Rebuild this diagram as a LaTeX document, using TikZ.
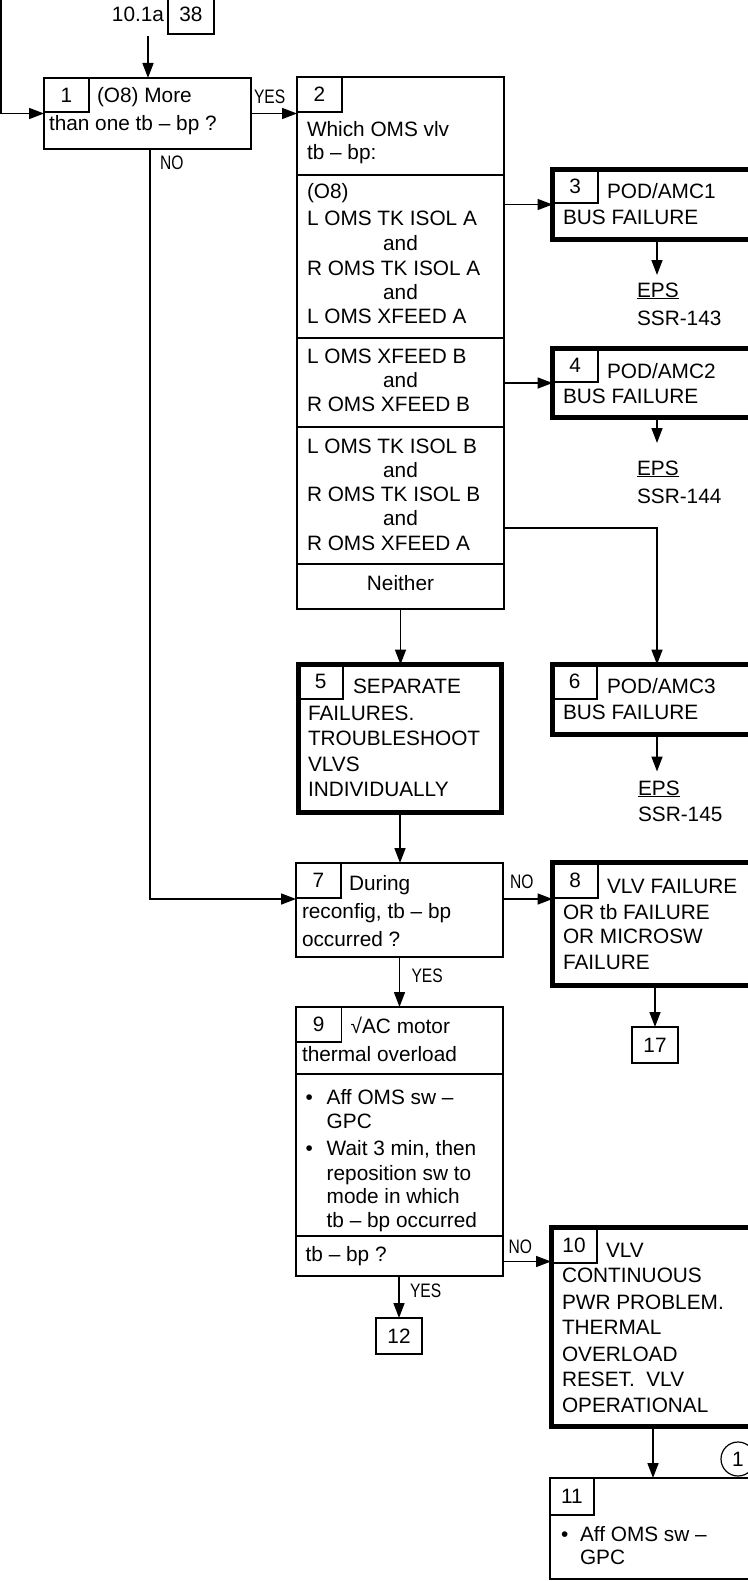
\documentclass[tikz,border=0pt]{standalone}
\usepackage{fontspec}
\setmainfont{Liberation Sans}
\newfontfamily\narrowfont[FakeStretch=0.8]{Liberation Sans}
\usetikzlibrary{arrows.meta,calc}
\newcommand\mainfs{\fontsize{20.8}{25}\selectfont}
\newcommand\lblfs{\narrowfont\fontsize{19.5}{23}\selectfont}
\newcommand\txln[4]{\node[txt] (#1) at (#2,#3) {#4};}
\tikzset{
 box/.style={draw, line width=2pt, rectangle, inner sep=0pt, outer sep=0pt, anchor=north west, font=\mainfs},
 thickbox/.style={box, line width=5pt},
 numbox/.style={draw, line width=1.2pt, rectangle, inner sep=0pt, outer sep=0pt, anchor=north west, font=\mainfs},
 txt/.style={inner sep=0pt, outer sep=0pt, anchor=base west, font=\mainfs},
 lbl/.style={inner sep=0pt, outer sep=0pt, anchor=base west, font=\lblfs},
 arr/.style={line width=1.6pt, -{Triangle[length=15pt,width=11pt]}},
 divider/.style={line width=2pt},
}
\begin{document}
\begin{tikzpicture}[x=1pt,y=-1pt]
\useasboundingbox (0,0) rectangle (747,1581);

% ---------- boxes ----------
\node[box, minimum width=46pt, minimum height=39pt] (b38) at (168,-5) {38};
\node[txt, anchor=base east] (ref10) at (164,21.7) {10.1a};

\node[box, minimum width=207pt, minimum height=71pt] (b1) at (44,78) {};
\node[numbox, minimum width=45pt, minimum height=34pt] (s1) at (b1.north west) {1};

\node[box, minimum width=207pt, minimum height=532pt] (b2) at (297,77) {};
\node[numbox, minimum width=45pt, minimum height=35pt] (s2) at (b2.north west) {2};

\node[thickbox, minimum width=209pt, minimum height=70pt] (b3) at (552.5,169.5) {};
\node[numbox, minimum width=45.5pt, minimum height=33.5pt] (s3) at (b3.north west) {3};

\node[thickbox, minimum width=209pt, minimum height=69pt] (b4) at (552.5,348.5) {};
\node[numbox, minimum width=45.5pt, minimum height=33.5pt] (s4) at (b4.north west) {4};

\node[thickbox, minimum width=203pt, minimum height=148pt] (b5) at (298.5,664.5) {};
\node[numbox, minimum width=44.5pt, minimum height=34.5pt] (s5) at (b5.north west) {5};

\node[thickbox, minimum width=209pt, minimum height=70pt] (b6) at (552.5,664.5) {};
\node[numbox, minimum width=44.5pt, minimum height=34.5pt] (s6) at (b6.north west) {6};

\node[box, minimum width=207pt, minimum height=94pt] (b7) at (296,863) {};
\node[numbox, minimum width=45pt, minimum height=35pt] (s7) at (b7.north west) {7};

\node[thickbox, minimum width=209pt, minimum height=123pt] (b8) at (552.5,862.5) {};
\node[numbox, minimum width=45.5pt, minimum height=35.5pt] (s8) at (b8.north west) {8};

\node[box, minimum width=46pt, minimum height=36pt] (b17) at (632,1027) {17};

\node[box, minimum width=207pt, minimum height=269pt] (b9) at (296,1007) {};
\node[numbox, minimum width=45.5pt, minimum height=35pt] (s9) at (b9.north west) {9};

\node[box, minimum width=46pt, minimum height=36pt] (b12) at (376,1318) {12};

\node[thickbox, minimum width=210pt, minimum height=199pt] (b10) at (551,1227.5) {};
\node[numbox, minimum width=46pt, minimum height=35.5pt] (s10) at (b10.north west) {10};

\node[box, minimum width=206pt, minimum height=101pt] (b11) at (550,1478) {};
\node[numbox, minimum width=44pt, minimum height=37pt] (s11) at (b11.north west) {11};

\node[draw, circle, line width=1.2pt, minimum size=34pt, inner sep=0pt, font=\mainfs] (c1) at (738,1459) {1};

% ---------- dividers ----------
\foreach \yy in {175,337.5,426.5,564} \draw[divider] (b2.west |- 0,\yy) -- (b2.east |- 0,\yy);
\foreach \yy in {1074,1236} \draw[divider] (b9.west |- 0,\yy) -- (b9.east |- 0,\yy);

% ---------- texts ----------
\txln{t1a}{97}{103}{(O8) More}
\txln{t1b}{49}{131}{than one tb -- bp ?}

\txln{t2a}{307}{137}{Which OMS vlv}
\txln{t2b}{307}{160}{tb -- bp:}
\txln{t2c}{307}{198}{(O8)}
\txln{t2d}{307}{225.5}{L OMS TK ISOL A}
\node[txt, anchor=base] (t2e) at (400.5,250) {and};
\txln{t2f}{307}{275}{R OMS TK ISOL A}
\node[txt, anchor=base] (t2g) at (400.5,299) {and};
\txln{t2h}{307}{323}{L OMS XFEED A}
\txln{t2i}{307}{363}{L OMS XFEED B}
\node[txt, anchor=base] (t2j) at (400.5,387) {and};
\txln{t2k}{307}{411.5}{R OMS XFEED B}
\txln{t2l}{307}{453}{L OMS TK ISOL B}
\node[txt, anchor=base] (t2m) at (400.5,477.5) {and};
\txln{t2n}{307}{501.5}{R OMS TK ISOL B}
\node[txt, anchor=base] (t2o) at (400.5,525.5) {and};
\txln{t2p}{307}{550.5}{R OMS XFEED A}
\node[txt, anchor=base] (t2q) at (400.5,590.5) {Neither};

\txln{t3a}{607}{198}{POD/AMC1}
\txln{t3b}{563}{224}{BUS FAILURE}
\txln{e3a}{637}{297}{\underline{EPS}}
\txln{e3b}{637}{325}{SSR-143}

\txln{t4a}{607}{378}{POD/AMC2}
\txln{t4b}{563}{403}{BUS FAILURE}
\txln{e4a}{637}{475}{\underline{EPS}}
\txln{e4b}{637}{503}{SSR-144}

\txln{t5a}{353}{693}{SEPARATE}
\txln{t5b}{308}{720}{FAILURES.}
\txln{t5c}{308}{745.5}{TROUBLESHOOT}
\txln{t5d}{308}{771.5}{VLVS}
\txln{t5e}{308}{796.5}{INDIVIDUALLY}

\txln{t6a}{607}{693}{POD/AMC3}
\txln{t6b}{563}{719}{BUS FAILURE}
\txln{e6a}{638}{795}{\underline{EPS}}
\txln{e6b}{638}{821.7}{SSR-145}

\txln{t7a}{349}{890}{During}
\txln{t7b}{302}{918}{reconfig, tb -- bp}
\txln{t7c}{302}{946}{occurred ?}

\txln{t8a}{607}{893}{VLV FAILURE}
\txln{t8b}{563}{919}{OR tb FAILURE}
\txln{t8c}{563}{943}{OR MICROSW}
\txln{t8d}{563}{969}{FAILURE}

\txln{t9a}{350.7}{1033}{√AC motor}
\txln{t9b}{302}{1061.7}{thermal overload}
\txln{t9c}{305.5}{1104.3}{•}
\txln{t9d}{326.7}{1104.3}{Aff OMS sw --}
\txln{t9e}{326.7}{1128.3}{GPC}
\txln{t9f}{305.5}{1155}{•}
\txln{t9g}{326.7}{1155}{Wait 3 min, then}
\txln{t9h}{326.7}{1180}{reposition sw to}
\txln{t9i}{326.7}{1203.3}{mode in which}
\txln{t9j}{326.7}{1227.7}{tb -- bp occurred}
\txln{t9k}{305.7}{1261.7}{tb -- bp ?}

\txln{t10a}{606}{1257}{VLV}
\txln{t10b}{562}{1282.3}{CONTINUOUS}
\txln{t10c}{562}{1309}{PWR PROBLEM.}
\txln{t10d}{562}{1334.3}{THERMAL}
\txln{t10e}{562}{1361}{OVERLOAD}
\txln{t10f}{562}{1386.7}{RESET.\ \ VLV}
\txln{t10g}{562}{1412.3}{OPERATIONAL}

\txln{t11a}{561}{1541.7}{•}
\txln{t11b}{580}{1541.7}{Aff OMS sw --}
\txln{t11c}{580}{1564.3}{GPC}

% ---------- connectors ----------
\coordinate (in0) at (1,-5);
\draw[arr] (in0) |- (b1.west);
\coordinate (c38) at (148,36);
\draw[arr] (c38) -- (c38 |- b1.north);

\draw[arr] (b1.east) -- (b1.east -| b2.west);
\node[lbl] (yes1) at (254,104) {YES};

\coordinate (no1s) at ([xshift=2.5pt]b1.south);
\coordinate (n7w) at ([yshift=-36pt]b7.north west);
\draw[arr] (no1s) |- (n7w);
\node[lbl] (no1) at (160,170) {NO};

\draw[arr] (b3.west -| b2.east) -- (b3.west);
\draw[arr] (b4.west -| b2.east) -- (b4.west);
\coordinate (r3y) at (0,528);
\draw[arr] (b2.east |- r3y) -| (b6.north);

\coordinate (e3) at (657,275);
\coordinate (e4) at (657,443);
\coordinate (e6) at (657,771.5);
\draw[arr] (b3.south) -- (e3);
\draw[arr] (b4.south) -- (e4);
\draw[arr] (b6.south) -- (e6);

\draw[arr] (b2.south) -- (b2.south |- b5.north);
\draw[arr] (b5.south) -- (b5.south |- b7.north);

\coordinate (n7e) at ([yshift=-36pt]b7.north east);
\draw[arr] (n7e) -- (n7e -| b8.west);
\node[lbl] (no7) at (510,888) {NO};

\draw[arr] (b7.south) -- (b7.south |- b9.north);
\node[lbl] (yes7) at (411.5,982.7) {YES};

\draw[arr] (b17.north |- b8.south) -- (b17.north);

\coordinate (n9) at ([yshift=14.5pt]b9.south east);
\draw[arr] (n9) -- (n9 -| b10.west);
\node[lbl] (no9) at (508.5,1253) {NO};

\draw[arr] (b12.north |- b9.south) -- (b12.north);
\node[lbl] (yes9) at (410,1297.3) {YES};

\draw[arr] (b11.north |- b10.south) -- (b11.north);
\end{tikzpicture}
\end{document}
